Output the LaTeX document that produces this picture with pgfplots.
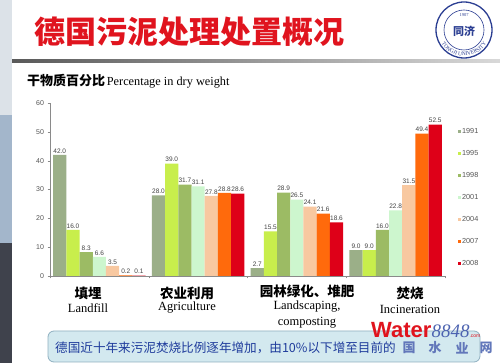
\documentclass[border=0pt]{standalone}
\usepackage{fontspec}
\setmainfont{Liberation Sans}
\newfontfamily\cjk{Noto Sans CJK SC}
\newfontfamily\serif{Liberation Serif}
\usepackage{pgfplots}
\pgfplotsset{compat=1.18}
\usetikzlibrary{decorations.text}
\definecolor{cA}{HTML}{9BAF88}
\definecolor{cB}{HTML}{C8EE4C}
\definecolor{cC}{HTML}{9CBB64}
\definecolor{cD}{HTML}{CDF6CE}
\definecolor{cE}{HTML}{F8C8A0}
\definecolor{cF}{HTML}{FF6A0C}
\definecolor{cG}{HTML}{DE0018}
\definecolor{axisc}{HTML}{8A8A8A}
\definecolor{tickc}{HTML}{555555}
\definecolor{labc}{HTML}{444444}
\definecolor{titlered}{HTML}{E0141E}
\definecolor{stripeA}{HTML}{DCE2E8}
\definecolor{stripeB}{HTML}{A3B6CB}
\definecolor{stripeC}{HTML}{3F424C}
\definecolor{boxfill}{HTML}{D3E9EF}
\definecolor{boxline}{HTML}{8FB0C0}
\definecolor{boxtext}{HTML}{1F3C9C}
\definecolor{logoblue}{HTML}{2B3E92}
\pgfplotsset{/pgf/number format/assume math mode=true,
  ybar legend/.style={legend image code/.code={\fill[##1,draw=none] (0pt,-1.6pt) rectangle (3.2pt,1.6pt);}}}
\begin{document}
\begin{tikzpicture}[x=1pt,y=1pt]
\fill[white] (0,0) rectangle (500,363);
% left stripe
\fill[stripeA] (0,363) rectangle (12,248);
\fill[stripeB] (0,248) rectangle (12,120);
\fill[stripeC] (0,120) rectangle (12,0);
% title line
\shade[left color=black!65, right color=black!15] (12,300.5) rectangle (500,303.5);
% slide title
\node[anchor=west, inner sep=0, text=titlered, font=\cjk\bfseries\fontsize{31}{31}\selectfont] at (34,331) {德国污泥处理处置概况};
% logo
\draw[logoblue, line width=1.3pt] (464,333) circle (28);
\draw[logoblue, line width=0.6pt] (464,333) circle (20);
\path[decorate, decoration={text along path, text align=center, text={|\serif\fontsize{5.5}{5.5}\selectfont\color{logoblue}|TONGJI UNIVERSITY}}] (464,333) ++(200:26) arc (200:340:26);
\node[text=logoblue, font=\serif\fontsize{4.5}{4.5}\selectfont, inner sep=0] at (464,348) {1907};
\node[text=logoblue, font=\cjk\bfseries\fontsize{11}{11}\selectfont, inner sep=0] at (464,332) {同济};
% chart title
\node[anchor=west, inner sep=0] at (27,282) {{\cjk\bfseries\fontsize{13}{13}\selectfont 干物质百分比}\,{\serif\fontsize{12.3}{12.3}\selectfont Percentage in dry weight}};
\begin{axis}[
  at={(50pt,87pt)}, anchor=south west,
  width=395pt, height=173pt, scale only axis,
  xmin=-0.5, xmax=3.5, ymin=0, ymax=60,
  axis x line*=bottom, axis y line*=left,
  axis line style={draw=axisc, -},
  ytick={0,10,...,60},
  xtick={-0.5,0.5,1.5,2.5,3.5}, xticklabels={},
  tick style={draw=axisc},
  tick align=outside, major tick length=2.5pt,
  y tick label style={font=\fontsize{7}{7}\selectfont, text=tickc},
  ybar=0pt, bar width=13.2pt,
  nodes near coords={\pgfmathprintnumber[fixed,fixed zerofill,precision=1,assume math mode=true]{\pgfplotspointmeta}},
  nodes near coords style={font=\fontsize{6.5}{6.5}\selectfont, text=labc, inner sep=1.5pt},
  legend style={at={(1.025,0.87)}, anchor=north west, draw=none, fill=none,
    font=\fontsize{7.3}{7.3}\selectfont\color{tickc}, row sep=13.8pt, nodes={inner sep=0.8pt}},
  legend cell align=left,
]
\addplot[fill=cA, draw=none] coordinates {(0,42.0) (1,28.0) (2,2.7) (3,9.0)};
\addplot[fill=cB, draw=none] coordinates {(0,16.0) (1,39.0) (2,15.5) (3,9.0)};
\addplot[fill=cC, draw=none] coordinates {(0,8.3) (1,31.7) (2,28.9) (3,16.0)};
\addplot[fill=cD, draw=none] coordinates {(0,6.6) (1,31.1) (2,26.5) (3,22.8)};
\addplot[fill=cE, draw=none] coordinates {(0,3.5) (1,27.8) (2,24.1) (3,31.5)};
\addplot[fill=cF, draw=none] coordinates {(0,0.2) (1,28.8) (2,21.6) (3,49.4)};
\addplot[fill=cG, draw=none] coordinates {(0,0.1) (1,28.6) (2,18.6) (3,52.5)};
\legend{1991,1995,1998,2001,2004,2007,2008}
\end{axis}
% category labels
\node[font=\cjk\bfseries\fontsize{13.5}{13.5}\selectfont, inner sep=0] at (88,70) {填埋};
\node[font=\serif\fontsize{12.5}{12.5}\selectfont, inner sep=0] at (88,55) {Landfill};
\node[font=\cjk\bfseries\fontsize{13.5}{13.5}\selectfont, inner sep=0] at (187,70) {农业利用};
\node[font=\serif\fontsize{12.5}{12.5}\selectfont, inner sep=0] at (187,55) {Agriculture};
\node[font=\cjk\bfseries\fontsize{13.5}{13.5}\selectfont, inner sep=0] at (307,72) {园林绿化、堆肥};
\node[font=\serif\fontsize{12.5}{12.5}\selectfont, inner sep=0] at (307,56) {Landscaping,};
\node[font=\serif\fontsize{12.5}{12.5}\selectfont, inner sep=0] at (307,40) {composting};
\node[font=\cjk\bfseries\fontsize{13.5}{13.5}\selectfont, inner sep=0] at (410,70) {焚烧};
\node[font=\serif\fontsize{12.5}{12.5}\selectfont, inner sep=0] at (410,54) {Incineration};
% bottom box
\draw[fill=boxfill, draw=boxline, line width=0.8pt, rounded corners=6pt] (48,1) rectangle (480,32);
\node[anchor=west, inner sep=0, text=boxtext, font=\cjk\fontsize{12.6}{12.6}\selectfont] at (55,15) {德国近十年来污泥焚烧比例逐年增加，由10\%以下增至目前的};
\foreach \cx/\ch in {409/国,435/水,462/业,486/网}
  \node[text=boxtext!70, font=\cjk\bfseries\fontsize{13}{13}\selectfont, inner sep=0] at (\cx,15) {\ch};
% watermark
\node[anchor=west, inner sep=0] at (371,33) {{\bfseries\fontsize{22}{22}\selectfont\color{titlered}Water}{\serif\itshape\fontsize{19}{19}\selectfont\color{boxtext!80}8848}{\fontsize{5}{5}\selectfont\color{titlered}.com}};
\end{tikzpicture}
\end{document}
